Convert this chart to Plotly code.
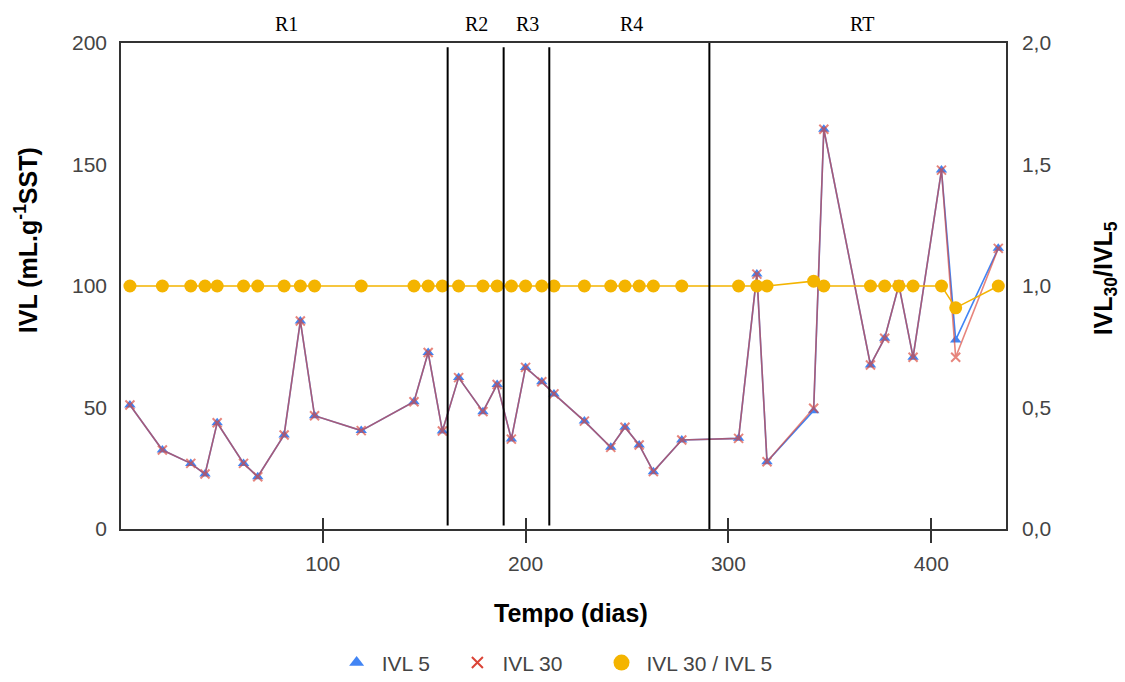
import plotly.graph_objects as go

# ---- data ----
days = [5, 21, 35, 42, 48, 61, 68, 81, 89, 96, 119, 145, 152, 159, 167, 179, 186, 193,
        200, 208, 214, 229, 242, 249, 256, 263, 277, 305, 314, 319, 342, 347, 370, 377,
        384, 391, 405, 412, 433]
ivl5 = [51, 32.5, 27, 22.6, 43.7, 27, 21.5, 38.7, 85.6, 46.6, 40.5, 52.4, 72.6, 40.3,
        62.3, 48.3, 59.5, 37, 66.5, 60.6, 55.6, 44.4, 33.6, 41.9, 34.6, 23.6, 36.6, 37.3,
        104.9, 27.7, 48.7, 164.5, 67.5, 78.5, 100.4, 70.7, 147.7, 77.8, 115.5]
ivl30 = [51, 32.5, 27, 22.6, 43.7, 27, 21.5, 38.7, 85.6, 46.6, 40.5, 52.4, 72.6, 40.3,
         62.3, 48.3, 59.5, 37, 66.5, 60.6, 55.6, 44.4, 33.6, 41.9, 34.6, 23.6, 36.6, 37.3,
         104.9, 27.7, 49.7, 164.5, 67.5, 78.5, 100.4, 70.7, 147.7, 70.7, 115.5]
ratio = [1.0, 1.0, 1.0, 1.0, 1.0, 1.0, 1.0, 1.0, 1.0, 1.0, 1.0, 1.0, 1.0, 1.0, 1.0, 1.0,
         1.0, 1.0, 1.0, 1.0, 1.0, 1.0, 1.0, 1.0, 1.0, 1.0, 1.0, 1.0, 1.0, 1.0, 1.02, 1.0,
         1.0, 1.0, 1.0, 1.0, 1.0, 0.91, 1.0]

phase_bounds = [161.6, 189.2, 211.7, 290.6]
phase_names = ["R1", "R2", "R3", "R4", "RT"]
phase_label_x = [82, 176, 201, 252, 366]

series_names = ["IVL 5", "IVL 30", "IVL 30 / IVL 5"]

x_ticks = [100, 200, 300, 400]
y_ticks = [0, 50, 100, 150, 200]
y2_ticks = [0, 0.5, 1.0, 1.5, 2.0]

BLUE = "#4285F4"
RED = "#DB4437"
YELLOW = "#F4B400"
AX = "#333333"
TICKFONT = dict(family="Liberation Sans, Arial, sans-serif", size=21, color="#444444")
NB = "\u00a0"

fig = go.Figure()

fig.add_trace(go.Scatter(x=days, y=ivl5, mode="lines+markers", name=series_names[0],
                         line=dict(color=BLUE, width=1.6),
                         marker=dict(symbol="triangle-up", size=10, color=BLUE),
                         showlegend=False))
fig.add_trace(go.Scatter(x=days, y=ivl30, mode="lines+markers", name=series_names[1],
                         line=dict(color=RED, width=1.6), opacity=0.65,
                         marker=dict(symbol="x-thin", size=9, line=dict(color=RED, width=2)),
                         showlegend=False))
fig.add_trace(go.Scatter(x=days, y=ratio, mode="lines+markers", name=series_names[2],
                         yaxis="y2",
                         line=dict(color=YELLOW, width=1.5),
                         marker=dict(symbol="circle", size=13, color=YELLOW),
                         showlegend=False))

# legend-only entries (markers only, as in the reference)
fig.add_trace(go.Scatter(x=[None], y=[None], mode="markers", name=series_names[0] + NB * 3,
                         marker=dict(symbol="triangle-up", size=13, color=BLUE)))
fig.add_trace(go.Scatter(x=[None], y=[None], mode="markers", name=series_names[1] + NB * 5,
                         marker=dict(symbol="x-thin", size=11, line=dict(color=RED, width=2))))
fig.add_trace(go.Scatter(x=[None], y=[None], mode="markers", name=series_names[2],
                         marker=dict(symbol="circle", size=17, color=YELLOW)))
# dummy trace for the inner tick axis
fig.add_trace(go.Scatter(x=[None], y=[None], xaxis="x2", showlegend=False, hoverinfo="skip"))

shapes = []
for i, b in enumerate(phase_bounds):
    last = i == len(phase_bounds) - 1
    shapes.append(dict(type="line", xref="x", yref="paper", x0=b, x1=b,
                       y0=0 if last else 0.007, y1=1 if last else 0.991,
                       line=dict(color="black", width=2)))

annotations = []
for name, xx in zip(phase_names, phase_label_x):
    annotations.append(dict(text=name, x=xx, xref="x", y=1.039, yref="paper",
                            showarrow=False, xanchor="center", yanchor="middle",
                            font=dict(family="Liberation Serif, Times New Roman, serif",
                                      size=20, color="black")))
TITLEFONT = dict(family="Liberation Sans, Arial, sans-serif", size=25, color="black")
annotations.append(dict(text="<b>IVL (mL.g<sup>-1</sup>SST)</b>", textangle=-90,
                        x=-0.107, xref="paper", y=0.595, yref="paper", showarrow=False,
                        xanchor="center", yanchor="middle", font=TITLEFONT))
annotations.append(dict(text="<b>IVL<sub>30</sub>/IVL<sub>5</sub></b>", textangle=-90,
                        x=1.112, xref="paper", y=0.516, yref="paper", showarrow=False,
                        xanchor="center", yanchor="middle", font=TITLEFONT))
annotations.append(dict(text="<b>Tempo (dias)</b>", x=0.508, xref="paper", y=-0.173,
                        yref="paper", showarrow=False, xanchor="center", yanchor="middle",
                        font=TITLEFONT))

fig.update_layout(
    width=1125, height=682,
    margin=dict(l=121, r=119, t=43, b=153, autoexpand=False),
    paper_bgcolor="white", plot_bgcolor="white",
    separators=",.",
    shapes=shapes, annotations=annotations,
    xaxis=dict(range=[0.6, 436.8], tickvals=x_ticks, showline=True, linecolor=AX,
               linewidth=1.5, mirror=True, ticks="outside", ticklen=12, tickwidth=1.5,
               tickcolor=AX, showgrid=False, zeroline=False, tickfont=TICKFONT,
               ticklabelstandoff=3),
    xaxis2=dict(overlaying="x", matches="x", anchor="y", tickvals=x_ticks,
                ticks="inside", ticklen=11, tickwidth=1.5, tickcolor=AX,
                showticklabels=False, showline=False, showgrid=False, zeroline=False),
    yaxis=dict(range=[0, 200], tickvals=y_ticks, showline=True, linecolor=AX,
               linewidth=1.5, ticks="", showgrid=False, zeroline=False,
               tickfont=TICKFONT, ticklabelstandoff=8),
    yaxis2=dict(range=[0, 2], tickvals=y2_ticks, tickformat=".1f", overlaying="y",
                side="right", showline=True, linecolor=AX, linewidth=1.5, ticks="",
                showgrid=False, zeroline=False, tickfont=TICKFONT, ticklabelstandoff=10),
    legend=dict(orientation="h", x=0.493, xanchor="center", xref="container",
                y=0.028, yanchor="middle", yref="container",
                font=dict(family="Liberation Sans, Arial, sans-serif", size=21,
                          color="#444444"),
                itemwidth=40, tracegroupgap=0),
    showlegend=True,
)

fig.write_html("out.html")
